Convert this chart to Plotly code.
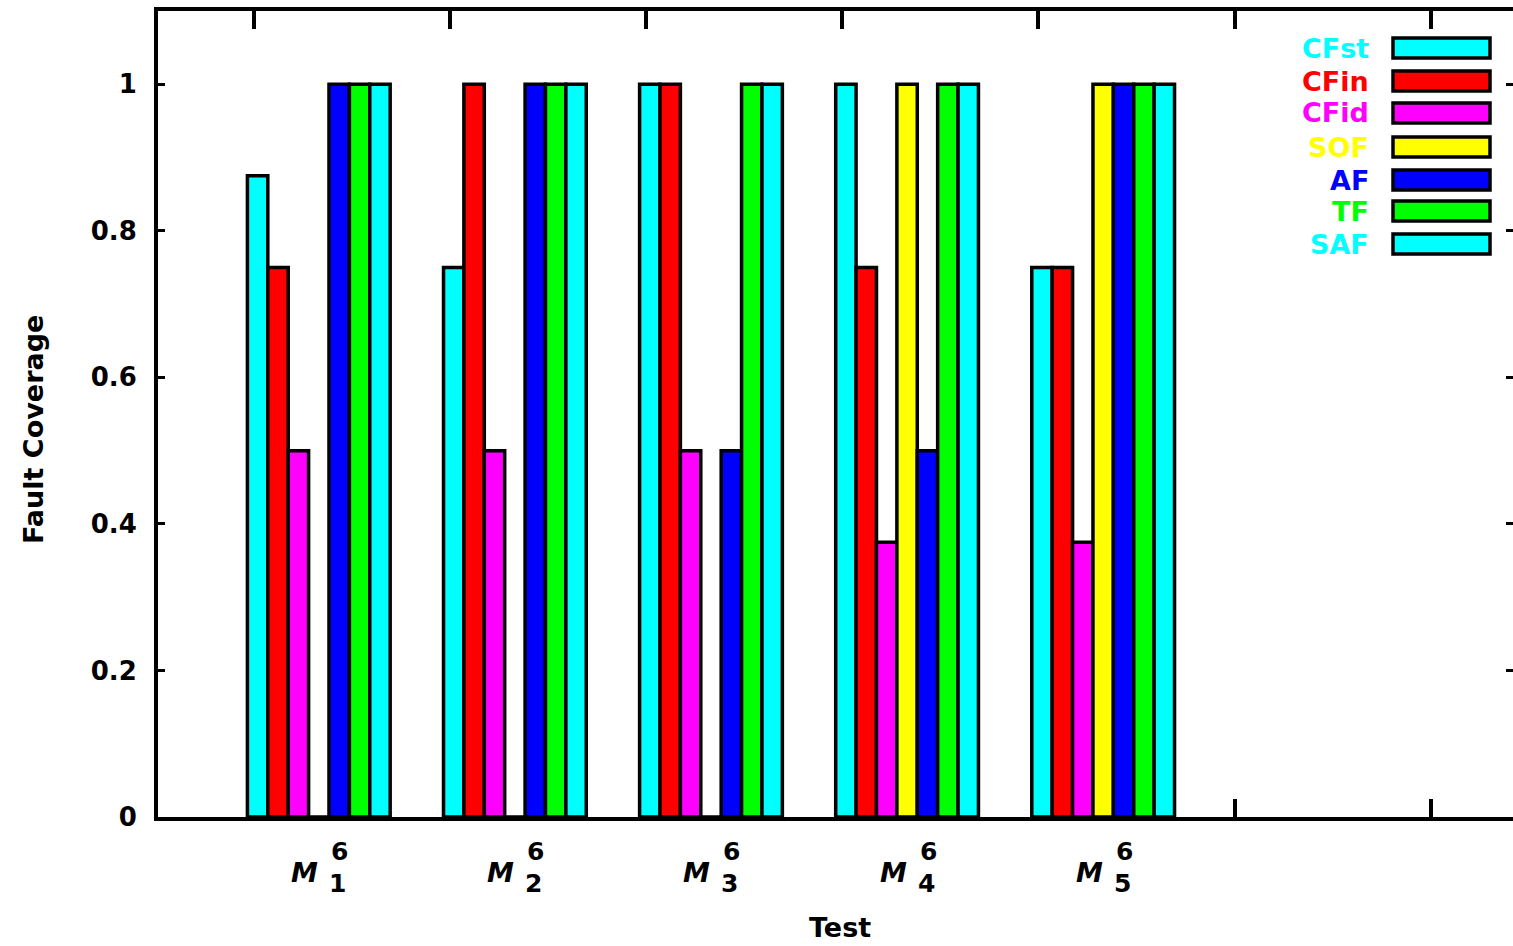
import plotly.graph_objects as go

# ---------------- data ----------------
groups = ["1", "2", "3", "4", "5"]          # subscripts of M^6_k
group_pos = [0.33, 1.33, 2.33, 3.33, 4.33]   # cluster centres on the x axis
series_names = ["CFst", "CFin", "CFid", "SOF", "AF", "TF", "SAF"]
series_colors = ["#00FFFF", "#FF0000", "#FF00FF", "#FFFF00", "#0000FF", "#00FF00", "#00FFFF"]
CFst = [0.875, 0.75, 1.0, 1.0, 0.75]
CFin = [0.75, 1.0, 1.0, 0.75, 0.75]
CFid = [0.5, 0.5, 0.5, 0.375, 0.375]
SOF = [0.0, 0.0, 0.0, 1.0, 1.0]
AF = [1.0, 1.0, 0.5, 0.5, 1.0]
TF = [1.0, 1.0, 1.0, 1.0, 1.0]
SAF = [1.0, 1.0, 1.0, 1.0, 1.0]
series_values = [CFst, CFin, CFid, SOF, AF, TF, SAF]
y_tickvals = [0, 0.2, 0.4, 0.6, 0.8, 1]
y_ticktext = ["0", "0.2", "0.4", "0.6", "0.8", "1"]
x_tickvals = [0, 1, 2, 3, 4, 5, 6]

FONT = "DejaVu Sans"

fig = go.Figure()
for name, color, vals in zip(series_names, series_colors, series_values):
    fig.add_trace(go.Bar(
        x=group_pos, y=vals, name=name,
        marker=dict(color=color, line=dict(color="black", width=3.5)),
        showlegend=False,
    ))

W, H = 1513, 946
L, R, T, B = 158, 0, 11, 129
pw, ph = W - L - R, H - T - B

def px_x(p):
    return (p - L) / pw

def px_y(p):
    return (H - B - p) / ph

annotations = []
shapes = []

# category labels  M^6_k
for g, pos in zip(groups, group_pos):
    annotations.append(dict(x=pos, y=0, xref="x", yref="y", text="<i>M</i>",
                            showarrow=False, xshift=-14, yshift=-55,
                            font=dict(family=FONT, size=27, color="black", weight="bold")))
    annotations.append(dict(x=pos, y=0, xref="x", yref="y", text="6",
                            showarrow=False, xshift=21, yshift=-34,
                            font=dict(family=FONT, size=25, color="black", weight="bold")))
    annotations.append(dict(x=pos, y=0, xref="x", yref="y", text=g,
                            showarrow=False, xshift=19, yshift=-66,
                            font=dict(family=FONT, size=25, color="black", weight="bold")))

# axis titles
annotations.append(dict(x=px_x(840), y=px_y(927), xref="paper", yref="paper", text="Test",
                        xanchor="center", yanchor="middle", showarrow=False,
                        font=dict(family=FONT, size=27, color="black", weight="bold")))
annotations.append(dict(x=px_x(33), y=px_y(430), xref="paper", yref="paper", text="Fault Coverage",
                        xanchor="center", yanchor="middle", textangle=-90, showarrow=False,
                        font=dict(family=FONT, size=27, color="black", weight="bold")))

# legend (text to the left of the swatch, as in the reference)
leg_y = [48, 81, 113, 147, 180, 211, 244]
for name, color, yy in zip(series_names, series_colors, leg_y):
    annotations.append(dict(x=px_x(1371), y=px_y(yy), xref="paper", yref="paper", text=name,
                            xanchor="right", yanchor="middle", showarrow=False,
                            font=dict(family=FONT, size=27, color=color, weight="bold")))
    shapes.append(dict(type="rect", xref="paper", yref="paper",
                       x0=px_x(1393), x1=px_x(1490), y0=px_y(yy + 10), y1=px_y(yy - 10),
                       fillcolor=color, line=dict(color="black", width=3.5)))

fig.update_layout(
    width=W, height=H,
    margin=dict(l=L, r=R, t=T, b=B, autoexpand=False),
    paper_bgcolor="white", plot_bgcolor="white",
    barmode="group", bargap=0.272, bargroupgap=0,
    annotations=annotations, shapes=shapes,
    xaxis=dict(range=[-0.49, 6.42], tickvals=x_tickvals, showticklabels=False,
               ticks="inside", ticklen=18, tickwidth=3.5, tickcolor="black",
               showline=True, linecolor="black", linewidth=4, mirror="ticks",
               showgrid=False, zeroline=False, layer="below traces"),
    yaxis=dict(range=[0, 1.1], tickvals=y_tickvals, ticktext=y_ticktext,
               ticks="inside", ticklen=7, tickwidth=3, tickcolor="black",
               showline=True, linecolor="black", linewidth=4, mirror="ticks",
               showgrid=False, zeroline=False, ticklabelstandoff=12,
               tickfont=dict(family=FONT, size=26, color="black", weight="bold")),
)

fig.write_html("out.html", config={"displayModeBar": False},
               post_script="document.body.style.margin='0px';document.body.style.overflow='hidden';")
